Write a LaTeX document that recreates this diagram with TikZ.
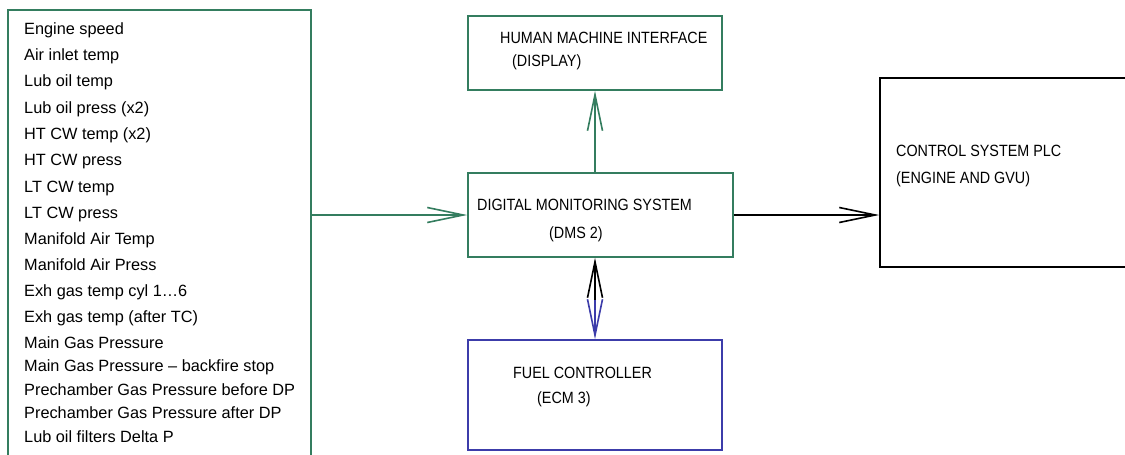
\documentclass[tikz,border=0pt]{standalone}
\usepackage{fontspec}
\setmainfont{Liberation Sans}
\newfontfamily\capsfont[FakeStretch=0.88]{Liberation Sans}
\usetikzlibrary{arrows.meta}
\definecolor{dmsgreen}{RGB}{52,125,95}
\definecolor{ecmblue}{RGB}{60,60,170}
\tikzset{
  box/.style={draw, line width=1.6pt, inner sep=0pt},
  sig/.style={line width=1.6pt, -{Straight Barb[length=36pt,width=15pt]}},
  item/.style={anchor=base west, inner sep=0pt, font=\fontsize{16.3}{18}\selectfont},
  lbl/.style={anchor=base west, inner sep=0pt, font=\capsfont\fontsize{16.3}{18}\selectfont},
}
\begin{document}
\begin{tikzpicture}[x=1pt, y=-1pt]
\clip (0,0) rectangle (1125,455);
\fill[white] (0,0) rectangle (1125,455);

% blocks
\node[box, draw=dmsgreen, minimum width=303pt, minimum height=470pt] (inputs) at (159.5,245) {};
\node[box, draw=dmsgreen, minimum width=254pt, minimum height=74pt] (hmi) at (595,53) {};
\node[box, draw=dmsgreen, minimum width=265pt, minimum height=84pt] (dms) at (600.5,215) {};
\node[box, draw=ecmblue, minimum width=254pt, minimum height=110pt] (ecm) at (595,395) {};
\node[box, draw=black, minimum width=270pt, minimum height=189pt] (plc) at (1015,172.5) {};

% measured signals
\foreach \txt/\yy [count=\i] in {
  Engine speed/34.3,
  Air inlet temp/60.6,
  Lub oil temp/86.9,
  Lub oil press (x2)/113.2,
  HT CW temp (x2)/139.5,
  HT CW press/165.8,
  LT CW temp/192.1,
  LT CW press/218.4,
  Manifold Air Temp/244.7,
  Manifold Air Press/270.5,
  Exh gas temp cyl 1…6/296.7,
  Exh gas temp (after TC)/322.3,
  Main Gas Pressure/348.5,
  Main Gas Pressure -- backfire stop/371.5,
  Prechamber Gas Pressure before DP/395,
  Prechamber Gas Pressure after DP/418.3,
  Lub oil filters Delta P/442.3}
  \node[item] (sig\i) at (24,\yy) {\txt};

% block captions
\node[lbl] (hmiA) at (500,43.3) {HUMAN MACHINE INTERFACE};
\node[lbl] (hmiB) at (512,66.7) {(DISPLAY)};
\node[lbl] (dmsA) at (477,210) {DIGITAL MONITORING SYSTEM};
\node[lbl] (dmsB) at (549,238.3) {(DMS 2)};
\node[lbl] (ecmA) at (513,378.3) {FUEL CONTROLLER};
\node[lbl] (ecmB) at (537,403.3) {(ECM 3)};
\node[lbl] (plcA) at (896,156.7) {CONTROL SYSTEM PLC};
\node[lbl] (plcB) at (896,183.3) {(ENGINE AND GVU)};

% connections
\draw[sig, dmsgreen] (inputs.east |- dms.west) -- (dms.west);
\draw[sig, dmsgreen] (dms.north -| hmi.south) -- (hmi.south);
\draw[sig, black] (dms.east) -- (plc.west |- dms.east);
\coordinate (link) at (595,300);
\draw[sig, black] (link) -- (link |- dms.south);
\draw[sig, ecmblue] (link) -- (ecm.north);
\end{tikzpicture}
\end{document}
